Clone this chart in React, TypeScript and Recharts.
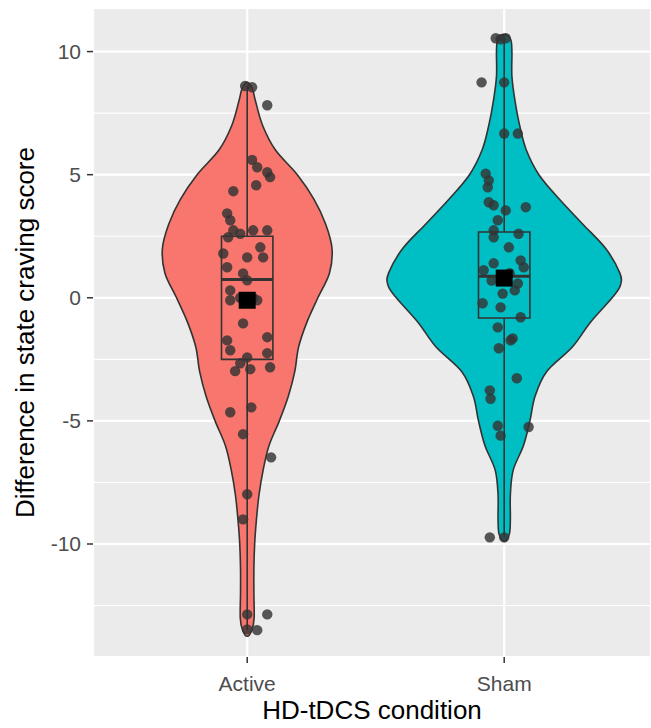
import React from 'react';
import { ComposedChart, Scatter, XAxis, YAxis, CartesianGrid } from 'recharts';

// ---- data ----
const conditions = ['Active', 'Sham'];
const yTicks = [-10, -5, 0, 5, 10];
const yMinorTicks = [-12.5, -7.5, -2.5, 2.5, 7.5];

// violin profiles: y levels (top to bottom) and half-widths (x-axis units)
const activeViolinY = [8.75, 8.5, 8.0, 7.0, 6.0, 5.0, 4.0, 3.0, 2.0, 1.0, 0.0, -1.0, -2.0, -3.0, -4.0, -5.0, -6.0, -7.0, -8.0, -9.0, -10.0, -11.0, -12.0, -13.0, -13.5, -13.75];
const activeViolinW = [0, 0.02, 0.032, 0.06, 0.11, 0.195, 0.26, 0.305, 0.33, 0.32, 0.275, 0.232, 0.2, 0.185, 0.16, 0.125, 0.085, 0.062, 0.046, 0.036, 0.029, 0.026, 0.026, 0.027, 0.018, 0];
const shamViolinY = [10.7, 10.5, 10.0, 9.0, 8.0, 7.0, 6.0, 5.0, 4.0, 3.0, 2.0, 1.0, 0.5, 0.0, -1.0, -2.0, -3.0, -4.0, -5.0, -6.0, -7.0, -8.0, -9.0, -9.6, -9.9];
const shamViolinW = [0, 0.025, 0.03, 0.03, 0.042, 0.06, 0.086, 0.135, 0.215, 0.305, 0.395, 0.45, 0.452, 0.42, 0.335, 0.265, 0.165, 0.12, 0.1, 0.075, 0.035, 0.024, 0.024, 0.02, 0];

// box plot stats [min, Q1, median, Q3, max] and means
const activeBox = [-13.5, -2.5, 0.74, 2.5, 8.6];
const shamBox = [-9.73, -0.82, 0.87, 2.67, 10.54];
const activeMean = -0.1;
const shamMean = 0.8;

// jittered observations: values and horizontal jitter (x-axis units)
const activeValues = [8.6, 8.55, 7.82, 5.6, 5.3, 5.1, 4.9, 4.33, 4.57, 3.43, 3.15, 2.74, 2.46, 2.6, 2.74, 2.74, 2.05, 1.64, 1.64, 1.8, 1.24, 0.99, 0.71, 0.3, 0.0, -0.1, 0.0, -1.04, -1.6, -1.73, -2.13, -2.42, -2.25, -2.66, -2.98, -2.9, -2.82, -4.65, -4.45, -5.54, -6.48, -7.98, -9.0, -12.86, -12.86, -13.47, -13.5, -0.1];
const activeJitter = [-0.008, 0.019, 0.078, 0.019, 0.039, 0.078, 0.089, -0.054, 0.035, -0.078, -0.066, -0.054, -0.074, -0.027, 0.023, 0.078, 0.051, 0, 0.062, -0.093, -0.078, -0.016, 0, -0.066, -0.027, -0.066, 0.023, -0.016, 0.078, -0.078, -0.066, 0, 0.078, -0.027, -0.047, 0.012, 0.089, -0.066, 0.016, -0.016, 0.093, 0, -0.016, 0, 0.078, 0, 0.039, 0.039];
const shamValues = [10.54, 10.54, 10.5, 8.75, 8.75, 6.67, 6.67, 5.04, 4.77, 4.49, 3.88, 3.76, 3.55, 3.68, 3.15, 2.74, 2.6, 2.46, 2.05, 1.4, 1.52, 1.12, 1.24, 0.58, 0.17, -0.22, -0.39, -0.79, -1.2, -1.73, -2.05, -1.65, -3.27, -3.76, -4.1, -5.2, -5.6, -5.25, -9.73, -9.73, 1.0, 0.7, 0.3];
const shamJitter = [-0.033, 0.006, -0.014, -0.088, 0, 0, 0.053, -0.072, -0.06, -0.064, -0.06, -0.041, 0.006, 0.084, -0.025, -0.041, 0.056, -0.041, 0.018, -0.041, 0.064, -0.08, 0.076, 0.053, -0.006, -0.084, -0.014, 0.064, -0.025, 0.025, -0.021, 0.033, 0.049, -0.056, -0.053, -0.025, -0.014, 0.095, -0.056, 0, 0.021, -0.049, 0.041];

const colors = ['#F8766D', '#00BFC4'];
const xDomain = [0.4, 2.5712];
const yDomain = [-14.59, 11.77];
const boxHalf = 0.1;

// ---- helpers building series from the arrays ----
const violinOutline = (center: number, ys: number[], ws: number[]) => [
  ...ys.map((y, i) => ({ x: center + ws[i], y })),
  ...ys.slice(1, -1).map((y, i) => ({ x: center - ws[i + 1], y })).reverse(),
];
const boxCorners = (center: number, b: number[]) => [
  { x: center - boxHalf, y: b[1] },
  { x: center + boxHalf, y: b[1] },
  { x: center + boxHalf, y: b[3] },
  { x: center - boxHalf, y: b[3] },
];
const medianLine = (center: number, b: number[]) => [
  { x: center - boxHalf, y: b[2] },
  { x: center + boxHalf, y: b[2] },
];
const whisker = (center: number, b: number[]) => [
  { x: center, y: b[0] },
  { x: center, y: b[4] },
];
const jittered = (center: number, vals: number[], jit: number[]) =>
  vals.map((v, i) => ({ x: center + jit[i], y: v }));

const closedSmooth = (pts: { x: number; y: number }[]) => {
  const n = pts.length;
  let d = `M${pts[0].x},${pts[0].y}`;
  for (let i = 0; i < n; i++) {
    const p0 = pts[(i - 1 + n) % n];
    const p1 = pts[i];
    const p2 = pts[(i + 1) % n];
    const p3 = pts[(i + 2) % n];
    const c1x = p1.x + (p2.x - p0.x) / 6;
    const c1y = p1.y + (p2.y - p0.y) / 6;
    const c2x = p2.x - (p3.x - p1.x) / 6;
    const c2y = p2.y - (p3.y - p1.y) / 6;
    d += ` C${c1x},${c1y} ${c2x},${c2y} ${p2.x},${p2.y}`;
  }
  return d + 'Z';
};

const noShape = () => <g />;
const violinLine = (fill: string) => (p: any) => (
  <path d={closedSmooth(p.points)} fill={fill} stroke="#333333" strokeWidth={1.6} />
);
const polyLine = (fill: string) => (p: any) => (
  <path
    d={p.points.map((q: any, i: number) => `${i ? 'L' : 'M'}${q.x},${q.y}`).join(' ') + 'Z'}
    fill={fill}
    stroke="#333333"
    strokeWidth={1.6}
  />
);
const segLine = (w: number) => (p: any) => (
  <path
    d={p.points.map((q: any, i: number) => `${i ? 'L' : 'M'}${q.x},${q.y}`).join(' ')}
    fill="none"
    stroke="#333333"
    strokeWidth={w}
  />
);
const dot = (p: any) => <circle cx={p.cx} cy={p.cy} r={5.2} fill="#333333" fillOpacity={0.82} />;
const square = (p: any) => <rect x={p.cx - 8.5} y={p.cy - 8.5} width={17} height={17} fill="#000000" />;

export default function App() {
  const centers = [1, 2];
  const violins = [violinOutline(1, activeViolinY, activeViolinW), violinOutline(2, shamViolinY, shamViolinW)];
  const boxes = [activeBox, shamBox];
  const jit = [jittered(1, activeValues, activeJitter), jittered(2, shamValues, shamJitter)];
  const means = [{ x: 1, y: activeMean }, { x: 2, y: shamMean }];

  return (
    <div style={{ position: 'absolute', left: 0, top: 0, fontFamily: '"Liberation Sans", Arial, sans-serif' }}>
      <ComposedChart width={651} height={728} margin={{ top: 8, right: 0, bottom: 0, left: 0 }}>
        <CartesianGrid yAxisId="minor" vertical={false} fill="#EBEBEB" fillOpacity={1} stroke="#FFFFFF" strokeWidth={1.1} />
        <CartesianGrid stroke="#FFFFFF" strokeWidth={2.2} />
        <XAxis
          type="number"
          dataKey="x"
          domain={xDomain}
          allowDataOverflow
          ticks={centers}
          tickFormatter={(v: number) => conditions[v - 1]}
          height={71}
          axisLine={false}
          tickSize={6}
          tickMargin={13}
          tickLine={{ stroke: '#333333', strokeWidth: 1.5 }}
          tick={{ fill: '#4D4D4D', fontSize: 21 }}
          label={{ value: 'HD-tDCS condition', position: 'insideBottom', offset: 9, fill: '#000000', fontSize: 26 }}
        />
        <YAxis
          type="number"
          dataKey="y"
          domain={yDomain}
          allowDataOverflow
          ticks={yTicks}
          width={93}
          axisLine={false}
          tickSize={6}
          tickMargin={6}
          tickLine={{ stroke: '#333333', strokeWidth: 1.5 }}
          tick={{ fill: '#4D4D4D', fontSize: 21 }}
          label={{
            value: 'Difference in state craving score',
            angle: -90,
            position: 'insideLeft',
            offset: 25,
            fill: '#000000',
            fontSize: 26,
            style: { textAnchor: 'middle' },
          }}
        />
        <YAxis yAxisId="minor" type="number" domain={yDomain} allowDataOverflow ticks={yMinorTicks} hide />
        {centers.map((c, k) => (
          <Scatter key={'v' + k} data={violins[k]} shape={noShape} line={violinLine(colors[k])} isAnimationActive={false} legendType="none" />
        ))}
        {centers.map((c, k) => (
          <Scatter key={'w' + k} data={whisker(c, boxes[k])} shape={noShape} line={segLine(1.6)} isAnimationActive={false} legendType="none" />
        ))}
        {centers.map((c, k) => (
          <Scatter key={'b' + k} data={boxCorners(c, boxes[k])} shape={noShape} line={polyLine(colors[k])} isAnimationActive={false} legendType="none" />
        ))}
        {centers.map((c, k) => (
          <Scatter key={'m' + k} data={medianLine(c, boxes[k])} shape={noShape} line={segLine(3)} isAnimationActive={false} legendType="none" />
        ))}
        {centers.map((c, k) => (
          <Scatter key={'p' + k} data={jit[k]} shape={dot} isAnimationActive={false} legendType="none" />
        ))}
        <Scatter data={means} shape={square} isAnimationActive={false} legendType="none" />
      </ComposedChart>
    </div>
  );
}
